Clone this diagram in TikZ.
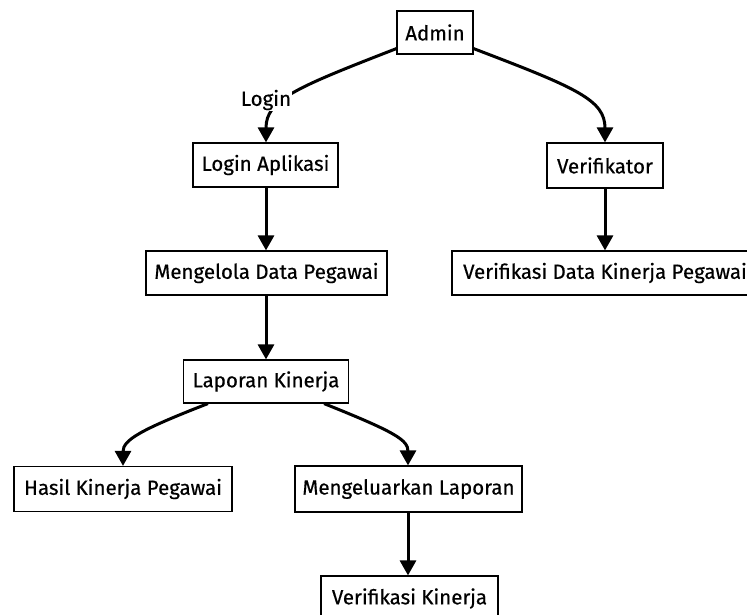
\documentclass[tikz,border=0pt]{standalone}
\usepackage{fontspec}
\setmainfont{Fira Sans}
\newfontfamily\boxfont[FakeBold=0.5]{Fira Sans}
\usetikzlibrary{arrows.meta}
\tikzset{
  box/.style={draw=black, line width=1.2pt, fill=white, inner sep=0pt,
    font=\boxfont\fontsize{20.5}{22}\selectfont, text=black},
  flow/.style={line width=3pt, -{Triangle[length=15pt,width=16pt]}},
  lbl/.style={fill=white, inner sep=1pt, font=\boxfont\fontsize{20.5}{22}\selectfont}
}
\begin{document}
\begin{tikzpicture}[x=1pt,y=-1pt]
\clip (0,0) rectangle (747,615);
\fill[white] (0,0) rectangle (747,615);

\node[box, minimum width=76pt,  minimum height=43pt] (admin)  at (435,32.5)  {Admin};
\node[box, minimum width=145pt, minimum height=44pt] (login)  at (265.5,165) {Login Aplikasi};
\node[box, minimum width=116pt, minimum height=45pt] (verif)  at (605,165.5) {Verifikator};
\node[box, minimum width=241pt, minimum height=44pt] (kelola) at (266.5,273) {Mengelola Data Pegawai};
\node[box, minimum width=306pt, minimum height=44pt] (vdata)  at (605,273)   {Verifikasi Data Kinerja Pegawai};
\node[box, minimum width=165pt, minimum height=43pt] (lapor)  at (266,381.5) {Laporan Kinerja};
\node[box, minimum width=218pt, minimum height=45pt] (hasil)  at (123,489)   {Hasil Kinerja Pegawai};
\node[box, minimum width=227pt, minimum height=46pt] (keluar) at (408.5,489) {Mengeluarkan Laporan};
\node[box, minimum width=177pt, minimum height=45pt] (vkin)   at (409.5,598.5) {Verifikasi Kinerja};

% curved branches
\draw[flow] (admin.south west) ++(0,-6) .. controls (295,88) and (266,100) .. (login.north -| 266,0);
\node[lbl] (loginlbl) at (266,100) {Login};
\draw[flow] (admin.south east) ++(0,-6) .. controls (577,88) and (605,100) .. (verif.north);
\draw[flow] (lapor.south west) ++(25,0) .. controls (140,430) and (123,440) .. (hasil.north);
\draw[flow] (lapor.south east) ++(-25,0) .. controls (395,432) and (408,440) .. (keluar.north -| 408,0);

% straight links
\draw[flow] (login.south -| 266,0) -- (kelola.north -| 266,0);
\draw[flow] (kelola.south -| 266,0) -- (lapor.north -| 266,0);
\draw[flow] (verif.south) -- (vdata.north);
\draw[flow] (keluar.south -| 408,0) -- (vkin.north -| 408,0);
\end{tikzpicture}
\end{document}
